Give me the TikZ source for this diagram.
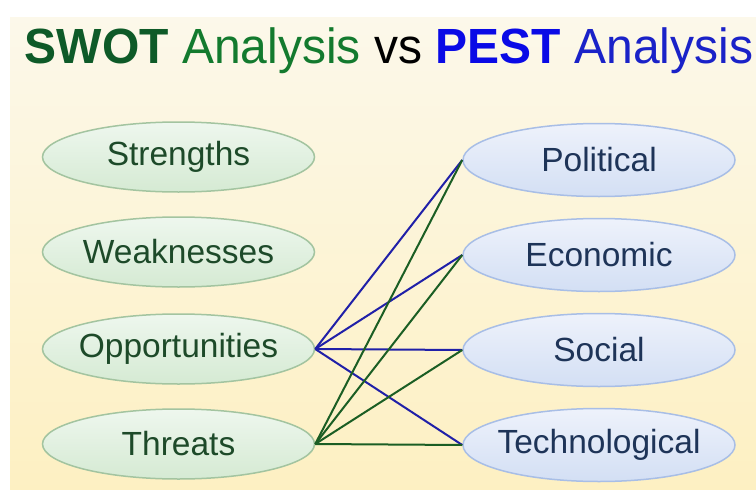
\documentclass[tikz,border=0pt]{standalone}
\usepackage{fontspec}
\setmainfont{Liberation Sans}
\usetikzlibrary{shapes.geometric}
\definecolor{bgtop}{HTML}{FCF8EA}
\definecolor{bgbot}{HTML}{FDF0C2}
\definecolor{swotgreen}{HTML}{0E5A28}
\definecolor{titlegreen}{HTML}{137A2E}
\definecolor{pestblue}{HTML}{0A0AE6}
\definecolor{titleblue}{HTML}{1A22C8}
\definecolor{gtop}{HTML}{EEF7EE}
\definecolor{gbot}{HTML}{D5EAD3}
\definecolor{gborder}{HTML}{A3C4A0}
\definecolor{gtext}{HTML}{1D4A29}
\definecolor{btop}{HTML}{EEF2FB}
\definecolor{bbot}{HTML}{D3DFF4}
\definecolor{bborder}{HTML}{A8BEE6}
\definecolor{btext}{HTML}{1E3458}
\definecolor{linkblue}{HTML}{2020A8}
\definecolor{linkgreen}{HTML}{1B5E24}
\tikzset{
  swotbox/.style={ellipse, minimum width=272pt, minimum height=70pt, inner sep=0pt,
    draw=gborder, line width=1.5pt, top color=gtop, bottom color=gbot,
    text=gtext, font=\fontsize{33.5}{36}\selectfont},
  pestbox/.style={ellipse, minimum width=272pt, minimum height=73pt, inner sep=0pt,
    draw=bborder, line width=1.5pt, top color=btop, bottom color=bbot,
    text=btext, font=\fontsize{33.5}{36}\selectfont},
  bluelink/.style={draw=linkblue, line width=2pt},
  greenlink/.style={draw=linkgreen, line width=2pt}
}
\newcommand{\ctxt}[1]{\makebox[0pt]{#1}}
\begin{document}
\begin{tikzpicture}[x=1pt,y=-1pt]
\useasboundingbox (0,0) rectangle (756,490);
\fill[white] (0,0) rectangle (756,490);
\shade[top color=bgtop, bottom color=bgbot] (10,17) rectangle (756,490);
\node[anchor=base, inner sep=0pt, font=\fontsize{48}{50}\selectfont] (title) at (389,63)
  {\scalebox{1}[1.03]{\textcolor{swotgreen}{\textbf{SWOT}} \textcolor{titlegreen}{Analysis} \textcolor{black}{vs} \textcolor{pestblue}{\textbf{PEST}} \textcolor{titleblue}{Analysis}}};
\node[swotbox] (s) at (178.5,157) {\ctxt{Strengths}};
\node[swotbox] (w) at (178.5,252) {\ctxt{Weaknesses}};
\node[swotbox] (o) at (178.5,349) {\ctxt{Opportunities}};
\node[swotbox] (t) at (178.5,444) {\ctxt{Threats}};
\node[pestbox] (p) at (599,160) {\ctxt{Political}};
\node[pestbox] (e) at (599,255) {\ctxt{Economic}};
\node[pestbox] (so) at (599,350) {\ctxt{Social}};
\node[pestbox] (te) at (599,445) {\ctxt{Technological}};
\foreach \x in {p,e,so,te} \draw[bluelink] (o.east) -- (\x.west);
\foreach \x in {p,e,so,te} \draw[greenlink] (t.east) -- (\x.west);
\end{tikzpicture}
\end{document}
